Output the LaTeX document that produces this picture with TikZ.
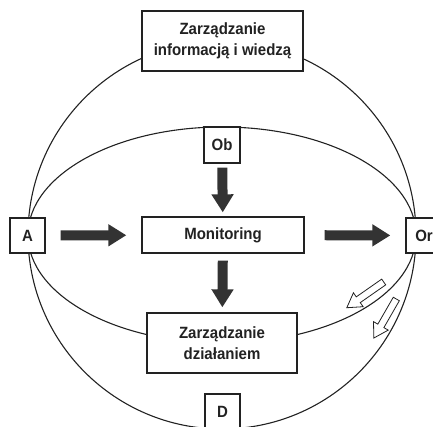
\documentclass[tikz,border=0pt]{standalone}
\usepackage{fontspec}
\setmainfont{Liberation Sans}[FakeStretch=0.92]
\usetikzlibrary{arrows.meta}
\definecolor{ink}{HTML}{222222}
\definecolor{arrowfill}{HTML}{333333}
\tikzset{
  box/.style={draw=ink, line width=1.3pt, fill=white, inner sep=0pt,
    align=center, text=ink, font=\fontsize{16.3}{21}\selectfont\bfseries},
  orbit/.style={draw=ink, line width=1.1pt},
  bigarrow/.style={draw=arrowfill, line width=10pt,
    -{Triangle[length=18pt 0 0, width=21pt 0 0]}},
  pics/hollowarrow/.style={code={
    \draw[draw=ink, line width=0.8pt, fill=white, line join=miter]
      (0,3.5) -- (31,3.5) -- (31,8.5) -- (45,0) -- (31,-8.5)
      -- (31,-3.5) -- (0,-3.5) -- cycle;}}
}
\begin{document}
\begin{tikzpicture}[x=1pt, y=1pt]
  \useasboundingbox (0,0) rectangle (433,427);

  % sphere outline and its equator
  \draw[orbit] (222,192) circle[radius=194];
  \draw[orbit] (222,192) ellipse[x radius=194, y radius=108];

  % boxes
  \node[box, minimum width=161pt, minimum height=60pt] (know) at (222.5,386)
    {Zarządzanie\\informacją i wiedzą};
  \node[box, minimum width=36pt, minimum height=36pt] (ob) at (222,282) {Ob};
  \node[box, minimum width=162pt, minimum height=36pt] (mon) at (223,192) {Monitoring};
  \node[box, minimum width=35pt, minimum height=35pt] (a) at (27.5,191.5) {A};
  \node[box, minimum width=36pt, minimum height=35pt] (or) at (424,191.5) {Or};
  \node[box, minimum width=150pt, minimum height=60pt] (act) at (222,84)
    {Zarządzanie\\działaniem};
  \node[box, minimum width=35pt, minimum height=36pt] (d) at (222.5,15) {D};

  % solid flow arrows
  \draw[bigarrow, shorten <=15pt, shorten >=15pt] (a) -- (mon);
  \draw[bigarrow, shorten <=20pt, shorten >=15pt] (mon) -- (or);
  \draw[bigarrow, shorten <=4pt, shorten >=4pt] (ob) -- (mon);
  \draw[bigarrow, shorten <=7pt, shorten >=5pt] (mon) -- (act);

  % outlined arrows along the right-hand arcs
  \pic[rotate=214.9] at (383.7,145) {hollowarrow};
  \pic[rotate=240.1] at (396.3,128) {hollowarrow};
\end{tikzpicture}
\end{document}
